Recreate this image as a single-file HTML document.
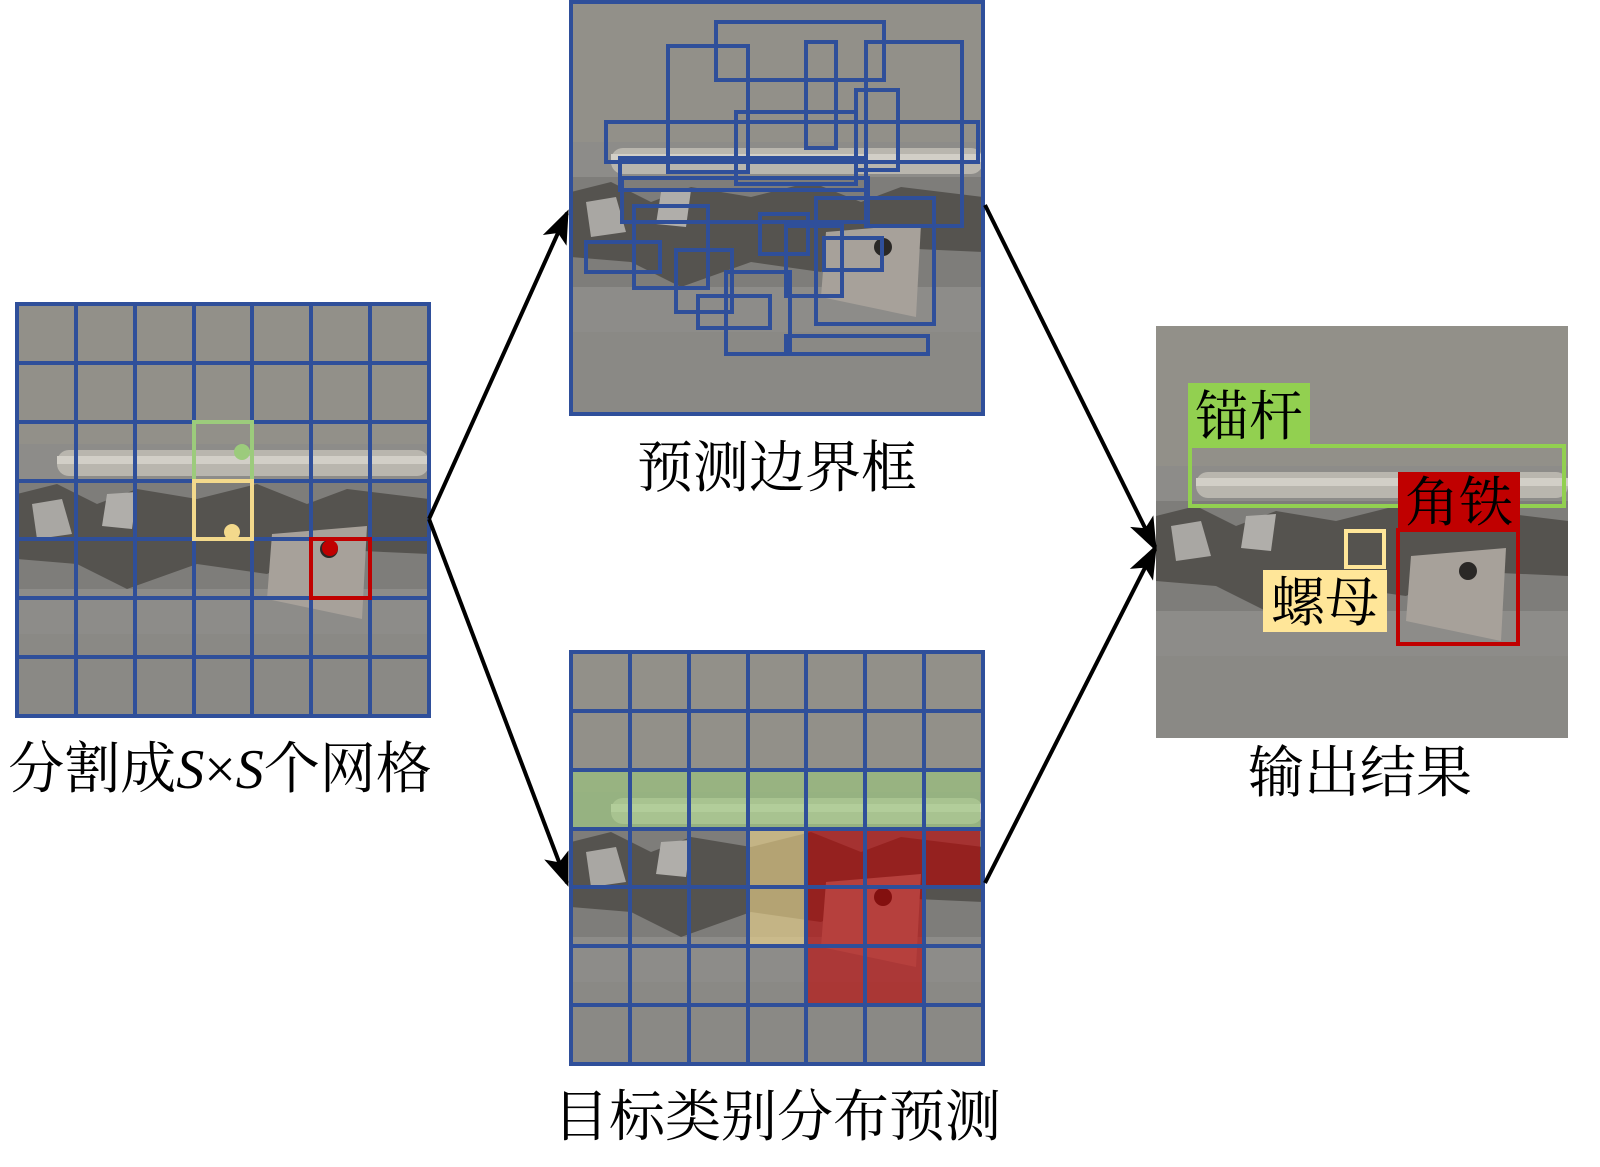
<!DOCTYPE html>
<html><head><meta charset="utf-8"><style>
html,body{margin:0;padding:0;background:#fff;}
svg{display:block;}
text{font-family:"Liberation Serif","Noto Serif CJK SC","Noto Sans CJK SC",serif;}
</style></head><body>
<svg width="1600" height="1167" viewBox="0 0 1600 1167" xmlns="http://www.w3.org/2000/svg">
<defs>
<marker id="ahb" markerWidth="34" markerHeight="34" refX="30" refY="17" orient="auto" markerUnits="userSpaceOnUse" viewBox="0 0 34 34">
<path d="M0,4 L34,17 L0,30 L8,17 z" fill="#000"/>
</marker>
<g id="photo">
<rect x="0" y="0" width="412" height="412" fill="#8d8c89"/>
<rect x="0" y="0" width="412" height="140" fill="#929089"/>
<rect x="0" y="175" width="412" height="110" fill="#7e7d7a"/>
<rect x="40" y="146" width="372" height="26" rx="12" fill="#b9b6ae"/>
<rect x="40" y="152" width="372" height="8" fill="#d2cfc7"/>
<path d="M0,190 L40,180 L80,200 L120,185 L180,195 L240,180 L290,200 L330,185 L412,195 L412,250 L300,245 L250,270 L180,260 L110,285 L60,260 L0,255 z" fill="#55534f"/>
<path d="M15,200 L45,195 L55,230 L20,235 z" fill="#a9a7a3"/>
<path d="M90,190 L120,188 L115,225 L85,222 z" fill="#b0aeaa"/>
<path d="M255,230 L350,222 L345,315 L250,295 z" fill="#a7a19a"/>
<circle cx="312" cy="245" r="9" fill="#2a2826"/>
<rect x="0" y="330" width="412" height="82" fill="#8a8985"/>
</g>
</defs>

<use href="#photo" x="17" y="304"/>
<g stroke="#2f4f9a" stroke-width="4" fill="none">
<rect x="17" y="304" width="412" height="412"/>
<line x1="76" y1="304" x2="76" y2="716"/><line x1="135" y1="304" x2="135" y2="716"/><line x1="194" y1="304" x2="194" y2="716"/><line x1="252" y1="304" x2="252" y2="716"/><line x1="311" y1="304" x2="311" y2="716"/><line x1="370" y1="304" x2="370" y2="716"/>
<line x1="17" y1="363" x2="429" y2="363"/><line x1="17" y1="422" x2="429" y2="422"/><line x1="17" y1="481" x2="429" y2="481"/><line x1="17" y1="539" x2="429" y2="539"/><line x1="17" y1="598" x2="429" y2="598"/><line x1="17" y1="657" x2="429" y2="657"/>
</g>
<rect x="194" y="422" width="58" height="59" fill="none" stroke="#9ccb7c" stroke-width="4"/>
<circle cx="242" cy="452" r="8" fill="#9ccb7c"/>
<rect x="194" y="481" width="58" height="58" fill="none" stroke="#f3d98c" stroke-width="4"/>
<circle cx="232" cy="532" r="8" fill="#f3d98c"/>
<rect x="311" y="539" width="59" height="59" fill="none" stroke="#c00000" stroke-width="4"/>
<circle cx="330" cy="548" r="8" fill="#c00000"/>
<text x="220" y="788" font-size="56" text-anchor="middle">分割成<tspan font-style="italic">S</tspan>×<tspan font-style="italic">S</tspan>个网格</text>

<use href="#photo" x="571" y="2"/>
<g stroke="#2f4f9a" stroke-width="4" fill="none">
<rect x="571" y="2" width="412" height="412"/>
<rect x="716" y="22" width="168" height="58"/>
<rect x="668" y="46" width="80" height="126"/>
<rect x="806" y="42" width="30" height="106"/>
<rect x="866" y="42" width="96" height="184"/>
<rect x="856" y="90" width="42" height="80"/>
<rect x="736" y="112" width="120" height="72"/>
<rect x="606" y="122" width="372" height="40"/>
<rect x="620" y="158" width="246" height="32"/>
<rect x="622" y="178" width="246" height="44"/>
<rect x="634" y="206" width="74" height="82"/>
<rect x="586" y="242" width="74" height="30"/>
<rect x="676" y="250" width="56" height="62"/>
<rect x="698" y="296" width="72" height="32"/>
<rect x="726" y="272" width="64" height="82"/>
<rect x="760" y="214" width="48" height="40"/>
<rect x="786" y="226" width="56" height="70"/>
<rect x="816" y="198" width="118" height="126"/>
<rect x="824" y="238" width="58" height="32"/>
<rect x="786" y="336" width="142" height="18"/>
</g>
<text x="777" y="487" font-size="56" text-anchor="middle">预测边界框</text>

<use href="#photo" x="571" y="652"/>
<rect x="573" y="772" width="407" height="57" fill="#9ccb7c" opacity="0.6"/>
<rect x="748" y="830" width="58" height="116" fill="#f3d98c" opacity="0.6"/>
<rect x="806" y="830" width="116" height="174" fill="#c00000" opacity="0.6"/>
<rect x="922" y="830" width="58" height="57" fill="#c00000" opacity="0.6"/>
<g stroke="#2f4f9a" stroke-width="4" fill="none">
<rect x="571" y="652" width="412" height="412"/>
<line x1="630" y1="652" x2="630" y2="1064"/><line x1="689" y1="652" x2="689" y2="1064"/><line x1="748" y1="652" x2="748" y2="1064"/><line x1="806" y1="652" x2="806" y2="1064"/><line x1="865" y1="652" x2="865" y2="1064"/><line x1="924" y1="652" x2="924" y2="1064"/>
<line x1="571" y1="711" x2="983" y2="711"/><line x1="571" y1="770" x2="983" y2="770"/><line x1="571" y1="829" x2="983" y2="829"/><line x1="571" y1="887" x2="983" y2="887"/><line x1="571" y1="946" x2="983" y2="946"/><line x1="571" y1="1005" x2="983" y2="1005"/>
</g>
<text x="777" y="1136" font-size="56" text-anchor="middle">目标类别分布预测</text>

<use href="#photo" x="1156" y="326"/>
<rect x="1190" y="446" width="374" height="60" fill="none" stroke="#92d050" stroke-width="4"/>
<rect x="1188" y="383" width="122" height="62" fill="#92d050"/>
<text x="1249" y="435" font-size="54" text-anchor="middle">锚杆</text>
<rect x="1398" y="530" width="120" height="114" fill="none" stroke="#c00000" stroke-width="4"/>
<rect x="1398" y="472" width="122" height="58" fill="#c00000"/>
<text x="1459" y="521" font-size="54" text-anchor="middle">角铁</text>
<rect x="1346" y="531" width="38" height="36" fill="none" stroke="#ffe699" stroke-width="4"/>
<rect x="1263" y="570" width="124" height="62" fill="#ffe699"/>
<text x="1325" y="621" font-size="54" text-anchor="middle">螺母</text>
<text x="1360" y="792" font-size="56" text-anchor="middle">输出结果</text>

<g stroke="#000" stroke-width="4" fill="none">
<line x1="429" y1="519" x2="567" y2="213" marker-end="url(#ahb)"/>
<line x1="429" y1="519" x2="567" y2="883" marker-end="url(#ahb)"/>
<line x1="985" y1="205" x2="1155" y2="548" marker-end="url(#ahb)"/>
<line x1="985" y1="883" x2="1155" y2="548" marker-end="url(#ahb)"/>
</g>
</svg>
</body></html>
